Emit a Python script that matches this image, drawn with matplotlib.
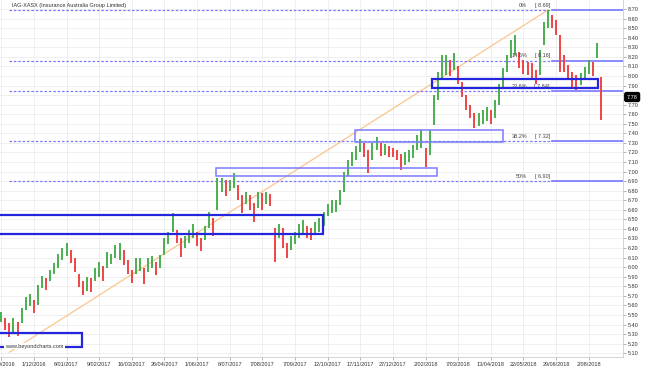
import matplotlib
matplotlib.use("Agg")
import matplotlib.pyplot as plt
from matplotlib.patches import Rectangle

plt.rcParams['font.family'] = ['Liberation Sans', 'DejaVu Sans']

title = "IAG-XASX (Insurance Australia Group Limited)"
watermark = "www.beyondcharts.com"

# one bar per ~3 trading days
highs = [5.53, 5.47, 5.42, 5.47, 5.43, 5.57, 5.69, 5.72, 5.66, 5.81,
         5.91, 5.89, 5.97, 6.04, 6.14, 6.20, 6.25, 6.18, 6.10, 5.93,
         5.85, 5.90, 5.89, 5.99, 6.05, 6.01, 6.16, 6.14, 6.23, 6.25,
         6.18, 6.08, 5.97, 6.10, 6.10, 5.99, 6.10, 6.12, 6.05, 6.13,
         6.31, 6.37, 6.57, 6.39, 6.31, 6.33, 6.39, 6.45, 6.37, 6.31,
         6.43, 6.58, 6.51, 6.93, 6.93, 6.91, 6.91, 6.98, 6.86, 6.75,
         6.79, 6.75, 6.67, 6.79, 6.78, 6.79, 6.77, 6.41, 6.45, 6.41,
         6.25, 6.33, 6.37, 6.45, 6.49, 6.43, 6.41, 6.47, 6.51, 6.58,
         6.66, 6.70, 6.70, 6.81, 7.00, 7.12, 7.20, 7.27, 7.34, 7.30,
         7.23, 7.30, 7.36, 7.30, 7.29, 7.27, 7.25, 7.23, 7.18, 7.20,
         7.23, 7.28, 7.38, 7.44, 7.25, 7.44, 7.80, 8.04, 8.22, 8.22,
         8.17, 8.24, 8.10, 7.94, 7.80, 7.70, 7.61, 7.61, 7.64, 7.68,
         7.64, 7.75, 7.92, 8.08, 8.22, 8.38, 8.43, 8.25, 8.17, 8.15,
         8.14, 8.06, 8.27, 8.56, 8.69, 8.64, 8.59, 8.43, 8.22, 8.11,
         8.04, 8.01, 8.03, 8.09, 8.17, 8.15, 8.35, 7.99]
lows = [5.43, 5.34, 5.27, 5.30, 5.28, 5.42, 5.55, 5.59, 5.52, 5.60,
        5.78, 5.76, 5.86, 5.93, 5.99, 6.08, 6.12, 6.04, 5.95, 5.79,
        5.71, 5.75, 5.74, 5.85, 5.90, 5.85, 5.99, 6.03, 6.10, 6.08,
        6.02, 5.93, 5.83, 5.93, 5.96, 5.82, 5.95, 5.99, 5.92, 5.99,
        6.13, 6.24, 6.37, 6.25, 6.11, 6.20, 6.25, 6.31, 6.22, 6.17,
        6.28, 6.41, 6.33, 6.60, 6.79, 6.74, 6.80, 6.83, 6.70, 6.57,
        6.66, 6.60, 6.47, 6.62, 6.60, 6.66, 6.64, 6.05, 6.31, 6.20,
        6.10, 6.18, 6.24, 6.31, 6.35, 6.31, 6.28, 6.35, 6.37, 6.43,
        6.54, 6.57, 6.58, 6.65, 6.79, 6.95, 7.06, 7.12, 7.20, 7.15,
        6.98, 7.12, 7.23, 7.16, 7.17, 7.15, 7.15, 7.12, 7.02, 7.07,
        7.10, 7.14, 7.23, 7.25, 7.05, 7.17, 7.49, 7.75, 7.98, 8.01,
        8.00, 8.06, 7.92, 7.78, 7.64, 7.56, 7.46, 7.48, 7.50, 7.53,
        7.50, 7.56, 7.70, 7.88, 8.04, 8.19, 8.22, 8.08, 8.02, 8.01,
        7.98, 7.92, 8.01, 8.32, 8.50, 8.50, 8.43, 8.04, 8.04, 7.96,
        7.87, 7.85, 7.91, 7.96, 8.02, 8.00, 8.19, 7.54]
last_price = 7.78

date_labels = ["27/10/2016", "1/12/2016", "6/01/2017", "9/02/2017", "16/03/2017",
               "26/04/2017", "1/06/2017", "6/07/2017", "7/08/2017", "7/09/2017",
               "12/10/2017", "17/11/2017", "27/12/2017", "2/02/2018", "7/03/2018",
               "13/04/2018", "22/05/2018", "29/06/2018", "2/08/2018"]
bars_per_label = 8

fib_pct = ["0%", "14.6%", "23.6%", "38.2%", "50%"]
fib_val = [8.69, 8.16, 7.84, 7.32, 6.90]
fib_low = 5.11
low_bar, high_bar = 2, 134

# support / resistance boxes: (first bar, last bar, bottom, top, heavy)
boxes = [(-3, 19.8, 5.165, 5.31, True),
         (-3, 78.9, 6.35, 6.55, True),
         (52.6, 106.8, 6.95, 7.04, False),
         (86.7, 123.0, 7.31, 7.43, False),
         (105.6, 146.3, 7.875, 7.97, True)]

fig = plt.figure(figsize=(6.5, 3.67), dpi=100)
ax = fig.add_axes([0, 10 / 367, 623 / 650, 357 / 367])
x0, x1 = -0.3, 152.4
ax.set_xlim(x0, x1)
ax.set_ylim(5.060, 8.795)

# grid
yt = [round(5.1 + 0.1 * k, 2) for k in range(37)]
xt = list(range(0, bars_per_label * len(date_labels), bars_per_label))
for v in yt:
    ax.axhline(v, color='#ededed', lw=0.6, zorder=0)
for v in xt:
    ax.axvline(v, color='#ededed', lw=0.6, zorder=0)

# price bars
n = len(highs)
idx = list(range(n))
mids = [(h + l) / 2 for h, l in zip(highs, lows)]
cols = []
for i in idx:
    prev = mids[i - 1] if i > 0 else mids[i]
    cols.append('#4caf50' if mids[i] >= prev else '#ef4444')
ax.vlines(idx, lows, highs, colors=cols, lw=1.4, zorder=3)

# fib trend line
ax.plot([low_bar, high_bar], [fib_low, fib_val[0]], color='#fbc58f', lw=0.9, zorder=2)

# fib levels
for p, v in zip(fib_pct, fib_val):
    ax.plot([low_bar, high_bar + 1], [v, v], color='#7a7aff', lw=0.9,
            ls=(0, (2.0, 1.5)), zorder=2)
    ax.plot([high_bar + 1, x1], [v, v], color='#8080ff', lw=1.3, zorder=2)
    ax.text(128.9, v + 0.052, p, fontsize=4, color='#444444', ha='right', va='center')
    ax.text(134.5, v + 0.052, "[ %.2f]" % v, fontsize=4, color='#444444', ha='right', va='center')

# boxes
for b0, b1, lo, hi, heavy in boxes:
    ax.add_patch(Rectangle((b0, lo), b1 - b0, hi - lo, fill=False,
                           ec='#2525dd' if heavy else '#7b7bff',
                           lw=1.6 if heavy else 1.1, zorder=4))

ax.text(1.0, 5.175, watermark, fontsize=4, color='#333333', va='center', zorder=6,
        bbox=dict(fc='white', ec='none', pad=0.6))
fig.text(12 / 650, 1 - 5 / 367, title, fontsize=4, color='#333333', va='center')

# axes
ax.yaxis.tick_right()
ax.set_yticks(yt)
ax.set_yticklabels(["%.2f" % v for v in yt])
ax.set_xticks(xt)
ax.set_xticklabels(date_labels)
ax.tick_params(axis='both', labelsize=4, colors='#999999', labelcolor='#333333',
               length=2, width=0.5, pad=1.5)
for s in ['left', 'top']:
    ax.spines[s].set_visible(False)
for s in ['right', 'bottom']:
    ax.spines[s].set_color('#cccccc')
    ax.spines[s].set_linewidth(0.6)

ax.text(1.006, last_price, "%.2f" % last_price, transform=ax.get_yaxis_transform(),
        fontsize=4, color='white', va='center', ha='left', zorder=7,
        bbox=dict(boxstyle='round,pad=0.35,rounding_size=0.3', fc='black', ec='black'))

fig.savefig("out.png", dpi=100)
